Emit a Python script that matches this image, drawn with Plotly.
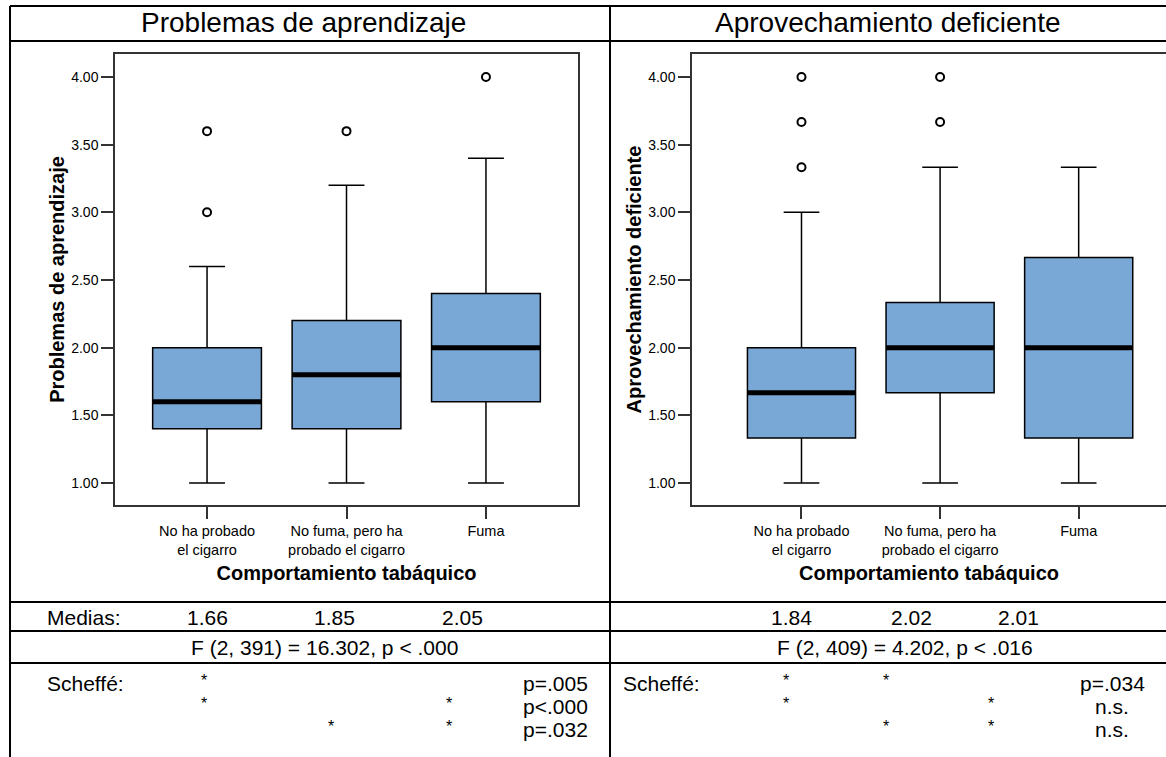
import plotly.graph_objects as go

W, H = 1166, 757

# ---------------- data ----------------
categories = ["No ha probado<br>el cigarro", "No fuma, pero ha<br>probado el cigarro", "Fuma"]
panel_titles = ["Problemas de aprendizaje", "Aprovechamiento deficiente"]
x_title = "Comportamiento tabáquico"
y_titles = ["Problemas de aprendizaje", "Aprovechamiento deficiente"]
y_ticks = [1.0, 1.5, 2.0, 2.5, 3.0, 3.5, 4.0]

# Problemas de aprendizaje
pa_lower = [1.0, 1.0, 1.0]
pa_q1 = [1.4, 1.4, 1.6]
pa_median = [1.6, 1.8, 2.0]
pa_q3 = [2.0, 2.2, 2.4]
pa_upper = [2.6, 3.2, 3.4]
pa_outliers = [[3.0, 3.6], [3.6], [4.0]]

# Aprovechamiento deficiente
ad_lower = [1.0, 1.0, 1.0]
ad_q1 = [1.333, 1.667, 1.333]
ad_median = [1.667, 2.0, 2.0]
ad_q3 = [2.0, 2.333, 2.667]
ad_upper = [3.0, 3.333, 3.333]
ad_outliers = [[3.333, 3.667, 4.0], [3.667, 4.0], []]

medias_label = "Medias:"
medias_pa = ["1.66", "1.85", "2.05"]
medias_ad = ["1.84", "2.02", "2.01"]
f_pa = "F (2, 391) = 16.302, p < .000"
f_ad = "F (2, 409) = 4.202, p < .016"
scheffe_label = "Scheffé:"
scheffe_pairs_pa = [[0], [0, 2], [1, 2]]
scheffe_p_pa = ["p=.005", "p<.000", "p=.032"]
scheffe_pairs_ad = [[0, 1], [0, 2], [1, 2]]
scheffe_p_ad = ["p=.034", "n.s.", "n.s."]

# ---------------- style ----------------
FONT = "Arial, Liberation Sans, sans-serif"
FILL = "#79A7D6"
BOXW = 0.78


def px(x):
    return x / W


def py(y):
    return 1 - y / H


fig = go.Figure()

panels = [
    dict(xa="x", ya="y", lower=pa_lower, q1=pa_q1, med=pa_median, q3=pa_q3, up=pa_upper, out=pa_outliers),
    dict(xa="x2", ya="y2", lower=ad_lower, q1=ad_q1, med=ad_median, q3=ad_q3, up=ad_upper, out=ad_outliers),
]

for p in panels:
    for i in range(len(categories)):
        fig.add_trace(go.Box(
            x=[i], q1=[p["q1"][i]], median=[p["med"][i]], q3=[p["q3"][i]],
            lowerfence=[p["lower"][i]], upperfence=[p["up"][i]],
            width=BOXW, whiskerwidth=0.33, fillcolor=FILL,
            line=dict(color="black", width=1.5), boxpoints=False,
            xaxis=p["xa"], yaxis=p["ya"], showlegend=False, hoverinfo="skip",
        ))
        fig.add_trace(go.Scatter(
            x=[i - BOXW / 2, i + BOXW / 2], y=[p["med"][i], p["med"][i]],
            mode="lines", line=dict(color="black", width=5),
            xaxis=p["xa"], yaxis=p["ya"], showlegend=False, hoverinfo="skip",
        ))
        if p["out"][i]:
            fig.add_trace(go.Scatter(
                x=[i] * len(p["out"][i]), y=p["out"][i], mode="markers",
                marker=dict(symbol="circle-open", size=8, color="black", line=dict(width=2)),
                xaxis=p["xa"], yaxis=p["ya"], showlegend=False, hoverinfo="skip",
            ))

axis_common = dict(showgrid=False, zeroline=False, showline=True, linecolor="#333",
                   linewidth=1.5, ticks="outside", tickcolor="#333", ticklen=12, tickwidth=1.5)
xtickfont = dict(family=FONT, size=14.5, color="black")
ytickfont = dict(family=FONT, size=14, color="black")
title_font = dict(family=FONT, size=20, color="black")

ydom = [py(505), py(54)]
yrange = [0.837, 4.17]

fig.update_layout(
    width=W, height=H, margin=dict(l=0, r=0, t=0, b=0),
    paper_bgcolor="white", plot_bgcolor="white",
    xaxis=dict(domain=[px(115), px(578)], range=[-0.66, 2.66], tickvals=[0, 1, 2],
               ticktext=categories, mirror=True, tickfont=xtickfont,
               title=dict(text=f"<b>{x_title}</b>", font=title_font, standoff=9),
               anchor="y", **axis_common),
    yaxis=dict(domain=ydom, range=yrange, tickvals=y_ticks, tickformat=".2f", mirror=True,
               tickfont=ytickfont,
               title=dict(text=f"<b>{y_titles[0]}</b>", font=title_font, standoff=1),
               anchor="x", **axis_common),
    xaxis2=dict(domain=[px(692), 1.0], range=[-0.79, 2.63], tickvals=[0, 1, 2],
                ticktext=categories, mirror=True, tickfont=xtickfont,
                title=dict(text=f"<b>{x_title}</b>", font=title_font, standoff=9),
                anchor="y2", **axis_common),
    yaxis2=dict(domain=ydom, range=yrange, tickvals=y_ticks, tickformat=".2f", mirror=False,
                tickfont=ytickfont,
                title=dict(text=f"<b>{y_titles[1]}</b>", font=title_font, standoff=1),
                anchor="x2", **axis_common),
)

# ---------------- table lines ----------------
shapes = []
LW = 2
for yy in [6, 41, 602, 631, 663]:
    shapes.append(dict(type="line", xref="paper", yref="paper", x0=px(10), x1=1.0, y0=py(yy), y1=py(yy),
                       line=dict(color="black", width=LW)))
for xx in [10, 610]:
    shapes.append(dict(type="line", xref="paper", yref="paper", x0=px(xx), x1=px(xx), y0=py(6), y1=0,
                       line=dict(color="black", width=LW)))
fig.update_layout(shapes=shapes)

# ---------------- table text ----------------
TS = 21
ann = []


def txt(x, y, s, size=TS, xanchor="center"):
    ann.append(dict(x=px(x), y=py(y), xref="paper", yref="paper", text=s, showarrow=False,
                    xanchor=xanchor, yanchor="middle", font=dict(family=FONT, size=size, color="black")))


txt(303, 23, panel_titles[0], size=28)
txt(888, 23, panel_titles[1], size=28)

# left block
txt(45, 617, medias_label, xanchor="left")
for xx, s in zip([207, 334, 462], medias_pa):
    txt(xx, 617, s)
txt(325, 647, f_pa)
txt(45, 683, scheffe_label, xanchor="left")
star_x_pa = [204, 331, 449]
for r, (pairs, pv) in enumerate(zip(scheffe_pairs_pa, scheffe_p_pa)):
    yy = 683 + r * 23
    for g in pairs:
        txt(star_x_pa[g], yy - 3, "*", size=16)
    txt(555, yy, pv)

# right block
txt(791, 617, medias_ad[0])
txt(911, 617, medias_ad[1])
txt(1018, 617, medias_ad[2])
txt(905, 647, f_ad)
txt(621, 683, scheffe_label, xanchor="left")
star_x_ad = [786, 886, 991]
for r, (pairs, pv) in enumerate(zip(scheffe_pairs_ad, scheffe_p_ad)):
    yy = 683 + r * 23
    for g in pairs:
        txt(star_x_ad[g], yy - 3, "*", size=16)
    txt(1112, yy, pv)

fig.update_layout(annotations=ann)

fig.write_html("out.html")
